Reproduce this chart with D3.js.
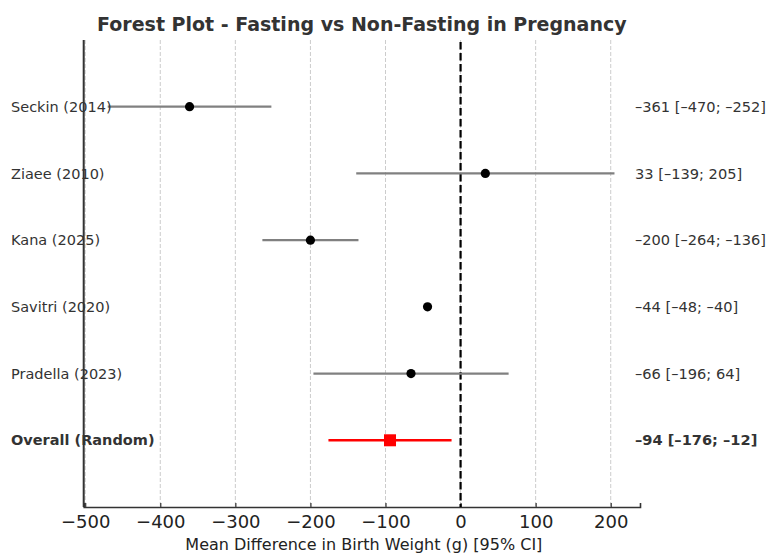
<!DOCTYPE html>
<html>
<head>
<meta charset="utf-8">
<script src="https://cdn.jsdelivr.net/npm/d3@7"></script>
<style>
  body { margin: 0; background: #fff; }
  text { font-family: "DejaVu Sans", sans-serif; }
</style>
</head>
<body>
<div id="chart"></div>
<script>
// forest plot data
const studies = ['Seckin (2014)', 'Ziaee (2010)', 'Kana (2025)', 'Savitri (2020)', 'Pradella (2023)', 'Overall (Random)'];
const estimates = [-361, 33, -200, -44, -66, -94];
const lower = [-470, -139, -264, -48, -196, -176];
const upper = [-252, 205, -136, -40, 64, -12];
const ciLabels = ['–361 [–470; –252]', '33 [–139; 205]', '–200 [–264; –136]', '–44 [–48; –40]', '–66 [–196; 64]', '–94 [–176; –12]'];
const xTicks = [-500, -400, -300, -200, -100, 0, 100, 200];

const width = 771, height = 553;
const margin = { top: 40, right: 131, bottom: 46, left: 83.7 };

const rows = studies.map((s, i) => ({
  study: s, est: estimates[i], lo: lower[i], hi: upper[i], label: ciLabels[i],
  pos: studies.length - 1 - i, overall: i === studies.length - 1
}));

const svg = d3.select('#chart').append('svg')
  .attr('width', width).attr('height', height)
  .style('background', '#fff');

const x = d3.scaleLinear()
  .domain([-502, 239])
  .range([margin.left, width - margin.right]);

const y = d3.scaleLinear()
  .domain([-1, 6])
  .range([height - margin.bottom, margin.top]);

// grid
svg.append('g')
  .selectAll('line')
  .data(xTicks)
  .join('line')
    .attr('x1', d => x(d)).attr('x2', d => x(d))
    .attr('y1', y(6)).attr('y2', y(-1))
    .attr('stroke', '#cccccc')
    .attr('stroke-width', 1)
    .attr('stroke-dasharray', '4,2');

// axes
const xAxis = svg.append('g')
  .attr('transform', `translate(0,${y(-1)})`)
  .call(d3.axisBottom(x).tickValues(xTicks).tickSize(-4).tickPadding(8)
    .tickFormat(d => d < 0 ? '\u2212' + Math.abs(d) : d));
xAxis.select('.domain').attr('stroke', '#333').attr('stroke-width', 1.6);
xAxis.selectAll('.tick line').attr('stroke', '#333').attr('stroke-width', 1.2);
xAxis.selectAll('.tick text')
  .attr('font-size', '18px')
  .attr('fill', '#222')
  .attr('font-family', '"DejaVu Sans", sans-serif');

svg.append('line')
  .attr('x1', x(-502)).attr('x2', x(-502))
  .attr('y1', y(6)).attr('y2', y(-1))
  .attr('stroke', '#333').attr('stroke-width', 2);

// zero reference
svg.append('line')
  .attr('x1', x(0)).attr('x2', x(0))
  .attr('y1', y(6) + 2).attr('y2', y(-1))
  .attr('stroke', '#000')
  .attr('stroke-width', 2.2)
  .attr('stroke-dasharray', '7.5,3.5');

// confidence intervals
svg.append('g')
  .selectAll('line')
  .data(rows)
  .join('line')
    .attr('x1', d => x(d.lo)).attr('x2', d => x(d.hi))
    .attr('y1', d => y(d.pos)).attr('y2', d => y(d.pos))
    .attr('stroke', d => d.overall ? '#ff0000' : '#808080')
    .attr('stroke-width', d => d.overall ? 2.6 : 2.3);

// point estimates
svg.append('g')
  .selectAll('circle')
  .data(rows.filter(d => !d.overall))
  .join('circle')
    .attr('cx', d => x(d.est))
    .attr('cy', d => y(d.pos))
    .attr('r', 4.6)
    .attr('fill', '#000');

svg.append('g')
  .selectAll('rect')
  .data(rows.filter(d => d.overall))
  .join('rect')
    .attr('x', d => x(d.est) - 6)
    .attr('y', d => y(d.pos) - 6)
    .attr('width', 12).attr('height', 12)
    .attr('fill', '#ff0000');

// study labels
svg.append('g')
  .selectAll('text')
  .data(rows)
  .join('text')
    .attr('x', 11)
    .attr('y', d => y(d.pos))
    .attr('dy', '0.35em')
    .attr('font-size', '14.5px')
    .attr('font-weight', d => d.overall ? 'bold' : 'normal')
    .attr('fill', '#333')
    .text(d => d.study);

// estimate labels
svg.append('g')
  .selectAll('text')
  .data(rows)
  .join('text')
    .attr('x', 635)
    .attr('y', d => y(d.pos))
    .attr('dy', '0.35em')
    .attr('font-size', '14.6px')
    .attr('font-weight', d => d.overall ? 'bold' : 'normal')
    .attr('fill', '#333')
    .text(d => d.label);

// title
svg.append('text')
  .attr('x', (x(-502) + x(239)) / 2)
  .attr('y', 31)
  .attr('text-anchor', 'middle')
  .attr('font-size', '19px')
  .attr('font-weight', 'bold')
  .attr('fill', '#333')
  .text('Forest Plot - Fasting vs Non-Fasting in Pregnancy');

// x label
svg.append('text')
  .attr('x', (x(-502) + x(239)) / 2 + 2)
  .attr('y', 550)
  .attr('text-anchor', 'middle')
  .attr('font-size', '16px')
  .attr('fill', '#222')
  .text('Mean Difference in Birth Weight (g) [95% CI]');
</script>
</body>
</html>
